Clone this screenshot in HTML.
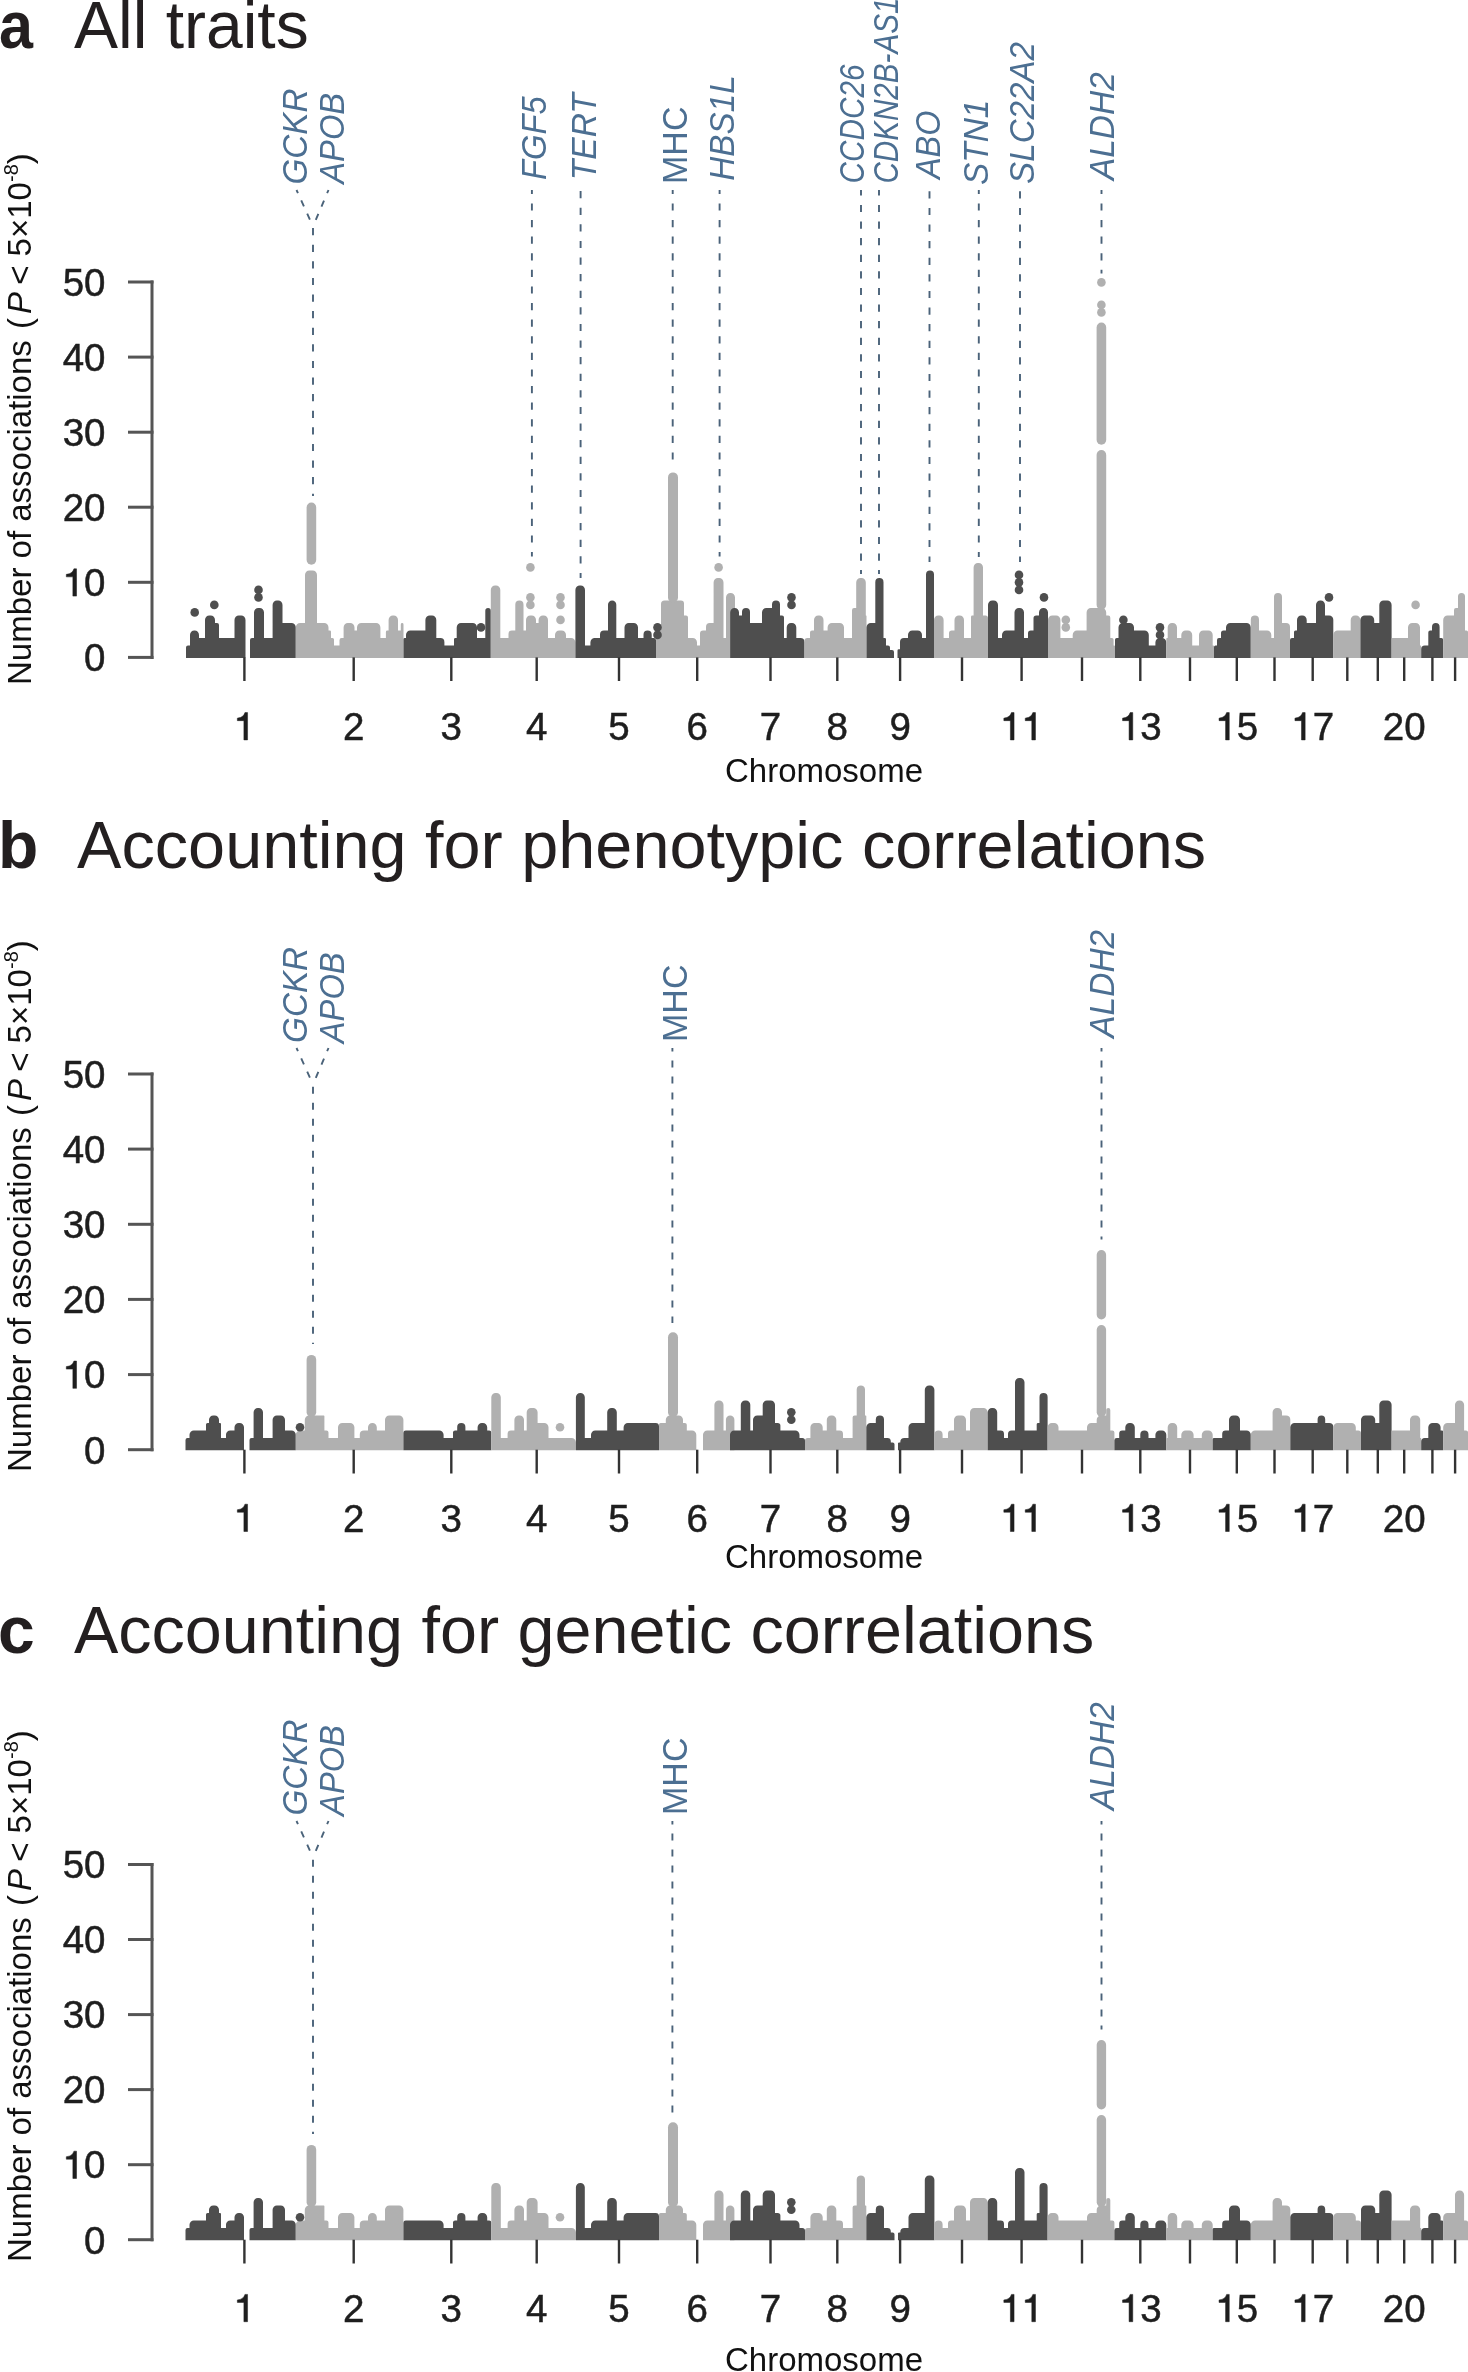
<!DOCTYPE html>
<html><head><meta charset="utf-8"><title>Manhattan plots</title>
<style>
html,body{margin:0;padding:0;background:#fff;}
body{width:1468px;height:2372px;overflow:hidden;}
svg{display:block;filter:blur(0.5px);}
text{font-family:"Liberation Sans",sans-serif;}
.ttl{font-size:66px;fill:#231f20;}
.tl{font-size:38.5px;fill:#1e1e1e;stroke:#1e1e1e;stroke-width:0.5px;}
.ax{font-size:33px;fill:#111;}
.gl{font-size:35.5px;fill:#4c6f92;}
.dl{stroke:#4a6279;stroke-width:1.9;fill:none;}
</style></head>
<body>
<svg width="1468" height="2372" viewBox="0 0 1468 2372">
<text x="-1" y="48" class="ttl" font-weight="bold" textLength="34" lengthAdjust="spacingAndGlyphs">a</text>
<text x="74" y="48" class="ttl">All traits</text>
<text transform="translate(31,685) rotate(-90)" class="ax">Number of associations <tspan dx="2">(</tspan><tspan dx="4" font-style="italic">P</tspan><tspan dx="-2"> &lt; 5×10</tspan><tspan style="font-size:20px" dy="-13">-8</tspan><tspan dy="13">)</tspan></text>
<path d="M186.00,658.00V647.60A2.00,2.00 0 0 1 188.00,645.60H190.00V634.90A4.30,4.30 0 0 1 194.30,630.60H194.70A4.30,4.30 0 0 1 199.00,634.90V638.10H205.00V619.90A4.30,4.30 0 0 1 209.30,615.60H210.70A4.30,4.30 0 0 1 215.00,619.90V623.10H217.00A2.00,2.00 0 0 1 219.00,625.10V638.10H234.50V619.90A4.30,4.30 0 0 1 238.80,615.60H241.20A4.30,4.30 0 0 1 245.50,619.90V658.00Z" fill="#4e4e4e"/>
<path d="M250.00,658.00V640.10A2.00,2.00 0 0 1 252.00,638.10H254.00V612.40A4.30,4.30 0 0 1 258.30,608.10H259.70A4.30,4.30 0 0 1 264.00,612.40V638.10H272.60V604.90A4.30,4.30 0 0 1 276.90,600.60H278.20A4.30,4.30 0 0 1 282.50,604.90V623.10H291.50A4.30,4.30 0 0 1 295.80,627.40V658.00Z" fill="#4e4e4e"/>
<path d="M295.80,658.00V627.40A4.30,4.30 0 0 1 300.10,623.10H305.00V574.90A4.30,4.30 0 0 1 309.30,570.60H312.70A4.30,4.30 0 0 1 317.00,574.90V623.10H324.20A4.30,4.30 0 0 1 328.50,627.40V630.60H329.75A1.25,1.25 0 0 1 331.00,631.85V638.10H332.50A1.50,1.50 0 0 1 334.00,639.60V645.60H339.50V640.15A2.05,2.05 0 0 1 341.55,638.10H343.60V627.40A4.30,4.30 0 0 1 347.90,623.10H350.20A4.30,4.30 0 0 1 354.50,627.40V630.60H357.00V627.40A4.30,4.30 0 0 1 361.30,623.10H376.10A4.30,4.30 0 0 1 380.40,627.40V638.10H385.90V631.95A1.35,1.35 0 0 1 387.25,630.60H388.60V619.90A4.30,4.30 0 0 1 392.90,615.60H393.70A4.30,4.30 0 0 1 398.00,619.90V630.60H400.80V624.45A1.35,1.35 0 0 1 402.15,623.10H402.15A1.35,1.35 0 0 1 403.50,624.45V658.00Z" fill="#b0b0b0"/>
<path d="M403.50,658.00V639.35A1.25,1.25 0 0 1 404.75,638.10H406.00V634.90A4.30,4.30 0 0 1 410.30,630.60H425.40V619.90A4.30,4.30 0 0 1 429.70,615.60H432.00A4.30,4.30 0 0 1 436.30,619.90V638.10H440.35A4.05,4.05 0 0 1 444.40,642.15V645.60H454.00V639.45A1.35,1.35 0 0 1 455.35,638.10H456.70V627.40A4.30,4.30 0 0 1 461.00,623.10H472.70A4.30,4.30 0 0 1 477.00,627.40V638.10H485.30V610.85A2.75,2.75 0 0 1 488.05,608.10H488.05A2.75,2.75 0 0 1 490.80,610.85V658.00Z" fill="#4e4e4e"/>
<path d="M490.80,658.00V589.90A4.30,4.30 0 0 1 495.10,585.60H496.00A4.30,4.30 0 0 1 500.30,589.90V638.10H508.50V634.00A3.40,3.40 0 0 1 511.90,630.60H515.30V604.70A4.10,4.10 0 0 1 519.40,600.60H519.40A4.10,4.10 0 0 1 523.50,604.70V630.60H526.00V619.90A4.30,4.30 0 0 1 530.30,615.60H531.70A4.30,4.30 0 0 1 536.00,619.90V623.10H538.60V619.90A4.30,4.30 0 0 1 542.90,615.60H543.70A4.30,4.30 0 0 1 548.00,619.90V638.10H555.00V634.90A4.30,4.30 0 0 1 559.30,630.60H561.70A4.30,4.30 0 0 1 566.00,634.90V638.10H571.10A4.30,4.30 0 0 1 575.40,642.40V658.00Z" fill="#b0b0b0"/>
<path d="M575.40,658.00V589.90A4.30,4.30 0 0 1 579.70,585.60H580.70A4.30,4.30 0 0 1 585.00,589.90V645.60H590.40V642.40A4.30,4.30 0 0 1 594.70,638.10H600.00V634.60A4.00,4.00 0 0 1 604.00,630.60H608.00V604.75A4.15,4.15 0 0 1 612.15,600.60H612.15A4.15,4.15 0 0 1 616.30,604.75V638.10H624.50V627.40A4.30,4.30 0 0 1 628.80,623.10H633.70A4.30,4.30 0 0 1 638.00,627.40V638.10H643.50V634.70A4.10,4.10 0 0 1 647.60,630.60H647.60A4.10,4.10 0 0 1 651.70,634.70V638.10H653.85A2.15,2.15 0 0 1 656.00,640.25V658.00Z" fill="#4e4e4e"/>
<path d="M656.00,658.00V633.10A2.50,2.50 0 0 1 658.50,630.60H661.00V604.10A3.50,3.50 0 0 1 664.50,600.60H668.00V600.60H678.00V600.60H681.00A3.00,3.00 0 0 1 684.00,603.60V615.60H686.00A2.00,2.00 0 0 1 688.00,617.60V638.10H692.70A4.30,4.30 0 0 1 697.00,642.40V645.60H700.00V633.60A3.00,3.00 0 0 1 703.00,630.60H706.00V626.90A3.80,3.80 0 0 1 709.80,623.10H713.60V582.40A4.30,4.30 0 0 1 717.90,578.10H719.20A4.30,4.30 0 0 1 723.50,582.40V638.10H726.00V597.40A4.30,4.30 0 0 1 730.30,593.10H730.70A4.30,4.30 0 0 1 735.00,597.40V658.00Z" fill="#b0b0b0"/>
<path d="M730.20,658.00V612.40A4.30,4.30 0 0 1 734.50,608.10H734.70A4.30,4.30 0 0 1 739.00,612.40V615.60H742.00V612.10A4.00,4.00 0 0 1 746.00,608.10H746.00A4.00,4.00 0 0 1 750.00,612.10V623.10H762.00V612.40A4.30,4.30 0 0 1 766.30,608.10H772.00V604.60A4.00,4.00 0 0 1 776.00,600.60H776.00A4.00,4.00 0 0 1 780.00,604.60V615.60H782.00A2.00,2.00 0 0 1 784.00,617.60V638.10H786.70V627.40A4.30,4.30 0 0 1 791.00,623.10H792.00A4.30,4.30 0 0 1 796.30,627.40V638.10H800.40A4.10,4.10 0 0 1 804.50,642.20V658.00Z" fill="#4e4e4e"/>
<path d="M804.50,658.00V640.85A2.75,2.75 0 0 1 807.25,638.10H810.00V632.60A2.00,2.00 0 0 1 812.00,630.60H814.00V619.90A4.30,4.30 0 0 1 818.30,615.60H819.20A4.30,4.30 0 0 1 823.50,619.90V630.60H827.60V627.40A4.30,4.30 0 0 1 831.90,623.10H839.70A4.30,4.30 0 0 1 844.00,627.40V638.10H852.00V610.20A2.10,2.10 0 0 1 854.10,608.10H856.20V582.40A4.30,4.30 0 0 1 860.50,578.10H861.50A4.30,4.30 0 0 1 865.80,582.40V615.60H866.15A0.35,0.35 0 0 1 866.50,615.95V658.00Z" fill="#b0b0b0"/>
<path d="M866.50,658.00V627.40A4.30,4.30 0 0 1 870.80,623.10H875.30V582.20A4.10,4.10 0 0 1 879.40,578.10H879.40A4.10,4.10 0 0 1 883.50,582.20V638.10H884.75A1.25,1.25 0 0 1 886.00,639.35V645.60H888.00A2.00,2.00 0 0 1 890.00,647.60V650.10H892.00A2.00,2.00 0 0 1 894.00,652.10V658.00Z" fill="#4e4e4e"/>
<path d="M897.50,658.00V650.60A1.25,1.25 0 0 1 898.75,649.35H900.00V642.10A4.00,4.00 0 0 1 904.00,638.10H908.00V634.90A4.30,4.30 0 0 1 912.30,630.60H917.70A4.30,4.30 0 0 1 922.00,634.90V638.10H926.00V574.60A4.00,4.00 0 0 1 930.00,570.60H930.00A4.00,4.00 0 0 1 934.00,574.60V658.00Z" fill="#4e4e4e"/>
<path d="M934.00,658.00V619.90A4.30,4.30 0 0 1 938.30,615.60H939.30A4.30,4.30 0 0 1 943.60,619.90V638.10H949.00V633.35A2.75,2.75 0 0 1 951.75,630.60H954.50V619.90A4.30,4.30 0 0 1 958.80,615.60H959.70A4.30,4.30 0 0 1 964.00,619.90V638.10H971.00V616.90A1.30,1.30 0 0 1 972.30,615.60H973.60V567.40A4.30,4.30 0 0 1 977.90,563.10H978.70A4.30,4.30 0 0 1 983.00,567.40V615.60H985.50A2.50,2.50 0 0 1 988.00,618.10V658.00Z" fill="#b0b0b0"/>
<path d="M988.00,658.00V604.90A4.30,4.30 0 0 1 992.30,600.60H993.70A4.30,4.30 0 0 1 998.00,604.90V638.10H1002.00V634.90A4.30,4.30 0 0 1 1006.30,630.60H1014.50V612.40A4.30,4.30 0 0 1 1018.80,608.10H1019.70A4.30,4.30 0 0 1 1024.00,612.40V638.10H1028.00V633.35A2.75,2.75 0 0 1 1030.75,630.60H1033.50V618.35A2.75,2.75 0 0 1 1036.25,615.60H1039.00V612.40A4.30,4.30 0 0 1 1043.30,608.10H1043.70A4.30,4.30 0 0 1 1048.00,612.40V658.00Z" fill="#4e4e4e"/>
<path d="M1048.00,658.00V619.90A4.30,4.30 0 0 1 1052.30,615.60H1056.10A4.30,4.30 0 0 1 1060.40,619.90V638.10H1072.70V634.90A4.30,4.30 0 0 1 1077.00,630.60H1086.60V612.40A4.30,4.30 0 0 1 1090.90,608.10H1096.40V608.10H1101.90A4.30,4.30 0 0 1 1106.20,612.40V615.60H1108.25A2.05,2.05 0 0 1 1110.30,617.65V638.10H1111.95A1.65,1.65 0 0 1 1113.60,639.75V645.60H1114.30A0.70,0.70 0 0 1 1115.00,646.30V658.00Z" fill="#b0b0b0"/>
<path d="M1115.00,658.00V639.85A1.75,1.75 0 0 1 1116.75,638.10H1118.50V627.40A4.30,4.30 0 0 1 1122.80,623.10H1129.70A4.30,4.30 0 0 1 1134.00,627.40V630.60H1144.50A4.30,4.30 0 0 1 1148.80,634.90V645.60H1155.40V642.40A4.30,4.30 0 0 1 1159.70,638.10H1162.00A4.30,4.30 0 0 1 1166.30,642.40V658.00Z" fill="#4e4e4e"/>
<path d="M1166.30,658.00V638.80A0.70,0.70 0 0 1 1167.00,638.10H1167.70V627.40A4.30,4.30 0 0 1 1172.00,623.10H1172.70A4.30,4.30 0 0 1 1177.00,627.40V638.10H1181.30V634.90A4.30,4.30 0 0 1 1185.60,630.60H1187.90A4.30,4.30 0 0 1 1192.20,634.90V645.60H1199.00V634.90A4.30,4.30 0 0 1 1203.30,630.60H1208.40A4.30,4.30 0 0 1 1212.70,634.90V645.60H1213.35A0.65,0.65 0 0 1 1214.00,646.25V658.00Z" fill="#b0b0b0"/>
<path d="M1214.00,658.00V647.10A1.50,1.50 0 0 1 1215.50,645.60H1217.00V640.10A2.00,2.00 0 0 1 1219.00,638.10H1221.00V633.10A2.50,2.50 0 0 1 1223.50,630.60H1226.00V627.40A4.30,4.30 0 0 1 1230.30,623.10H1246.50A4.30,4.30 0 0 1 1250.80,627.40V658.00Z" fill="#4e4e4e"/>
<path d="M1250.80,658.00V619.70A4.10,4.10 0 0 1 1254.90,615.60H1254.90A4.10,4.10 0 0 1 1259.00,619.70V630.60H1267.00A4.30,4.30 0 0 1 1271.30,634.90V638.10H1274.00V597.10A4.00,4.00 0 0 1 1278.00,593.10H1278.00A4.00,4.00 0 0 1 1282.00,597.10V623.10H1286.00A4.00,4.00 0 0 1 1290.00,627.10V658.00Z" fill="#b0b0b0"/>
<path d="M1290.00,658.00V640.10A2.00,2.00 0 0 1 1292.00,638.10H1294.00V632.10A1.50,1.50 0 0 1 1295.50,630.60H1297.00V619.90A4.30,4.30 0 0 1 1301.30,615.60H1302.40A4.30,4.30 0 0 1 1306.70,619.90V623.10H1316.00V604.90A4.30,4.30 0 0 1 1320.30,600.60H1320.70A4.30,4.30 0 0 1 1325.00,604.90V615.60H1329.15A4.15,4.15 0 0 1 1333.30,619.75V658.00Z" fill="#4e4e4e"/>
<path d="M1333.30,658.00V634.90A4.30,4.30 0 0 1 1337.60,630.60H1350.70V619.90A4.30,4.30 0 0 1 1355.00,615.60H1356.10A4.30,4.30 0 0 1 1360.40,619.90V658.00Z" fill="#b0b0b0"/>
<path d="M1360.40,658.00V619.90A4.30,4.30 0 0 1 1364.70,615.60H1369.90A4.30,4.30 0 0 1 1374.20,619.90V623.10H1379.30V604.90A4.30,4.30 0 0 1 1383.60,600.60H1387.30A4.30,4.30 0 0 1 1391.60,604.90V658.00Z" fill="#4e4e4e"/>
<path d="M1391.60,658.00V639.10A1.00,1.00 0 0 1 1392.60,638.10H1393.60V638.10H1408.00V627.40A4.30,4.30 0 0 1 1412.30,623.10H1415.70A4.30,4.30 0 0 1 1420.00,627.40V645.60H1420.60A0.60,0.60 0 0 1 1421.20,646.20V658.00Z" fill="#b0b0b0"/>
<path d="M1421.20,658.00V649.15A3.55,3.55 0 0 1 1424.75,645.60H1428.30V632.45A1.85,1.85 0 0 1 1430.15,630.60H1432.00V626.90A3.80,3.80 0 0 1 1435.80,623.10H1435.80A3.80,3.80 0 0 1 1439.60,626.90V638.10H1441.40A1.80,1.80 0 0 1 1443.20,639.90V658.00Z" fill="#4e4e4e"/>
<path d="M1443.20,658.00V619.90A4.30,4.30 0 0 1 1447.50,615.60H1454.00V610.10A2.00,2.00 0 0 1 1456.00,608.10H1458.00V596.60A3.50,3.50 0 0 1 1461.50,593.10H1461.50A3.50,3.50 0 0 1 1465.00,596.60V630.60H1466.50A1.50,1.50 0 0 1 1468.00,632.10V658.00Z" fill="#b0b0b0"/>
<line x1="311.4" y1="559.9" x2="311.4" y2="507.4" stroke="#b0b0b0" stroke-width="9.6" stroke-linecap="round"/>
<line x1="673" y1="597.4" x2="673" y2="477.4" stroke="#b0b0b0" stroke-width="10" stroke-linecap="round"/>
<line x1="1101.4" y1="604.9" x2="1101.4" y2="454.9" stroke="#b0b0b0" stroke-width="9.6" stroke-linecap="round"/>
<line x1="1101.4" y1="439.9" x2="1101.4" y2="327.4" stroke="#b0b0b0" stroke-width="9.6" stroke-linecap="round"/>
<circle cx="194.7" cy="612.4" r="4.3" fill="#4e4e4e"/>
<circle cx="214.3" cy="604.9" r="4.3" fill="#4e4e4e"/>
<circle cx="258.5" cy="597.4" r="4.3" fill="#4e4e4e"/>
<circle cx="258.5" cy="589.9" r="4.3" fill="#4e4e4e"/>
<circle cx="481" cy="627.4" r="4.3" fill="#4e4e4e"/>
<circle cx="530.4" cy="604.9" r="4.3" fill="#b0b0b0"/>
<circle cx="530.4" cy="597.4" r="4.3" fill="#b0b0b0"/>
<circle cx="530.4" cy="567.4" r="4.3" fill="#b0b0b0"/>
<circle cx="560.5" cy="619.9" r="4.3" fill="#b0b0b0"/>
<circle cx="560.5" cy="604.9" r="4.3" fill="#b0b0b0"/>
<circle cx="560.5" cy="597.4" r="4.3" fill="#b0b0b0"/>
<circle cx="657.5" cy="627.4" r="4.3" fill="#4e4e4e"/>
<circle cx="657.5" cy="634.9" r="4.3" fill="#4e4e4e"/>
<circle cx="718.6" cy="567.4" r="4.3" fill="#b0b0b0"/>
<circle cx="791.5" cy="604.9" r="4.3" fill="#4e4e4e"/>
<circle cx="791.5" cy="597.4" r="4.3" fill="#4e4e4e"/>
<circle cx="1019" cy="589.9" r="4.3" fill="#4e4e4e"/>
<circle cx="1019" cy="582.4" r="4.3" fill="#4e4e4e"/>
<circle cx="1019" cy="574.9" r="4.3" fill="#4e4e4e"/>
<circle cx="1044" cy="597.4" r="4.3" fill="#4e4e4e"/>
<circle cx="1065.8" cy="627.4" r="4.3" fill="#b0b0b0"/>
<circle cx="1065.8" cy="619.9" r="4.3" fill="#b0b0b0"/>
<circle cx="1123.4" cy="619.9" r="4.3" fill="#4e4e4e"/>
<circle cx="1160" cy="627.4" r="4.3" fill="#4e4e4e"/>
<circle cx="1160" cy="634.9" r="4.3" fill="#4e4e4e"/>
<circle cx="1329" cy="597.4" r="4.3" fill="#4e4e4e"/>
<circle cx="1415.6" cy="604.9" r="4.3" fill="#b0b0b0"/>
<circle cx="1101.4" cy="312.4" r="4.3" fill="#b0b0b0"/>
<circle cx="1101.4" cy="304.9" r="4.3" fill="#b0b0b0"/>
<circle cx="1101.4" cy="282.4" r="4.3" fill="#b0b0b0"/>
<line x1="152" y1="280.5" x2="152" y2="658.9" stroke="#555" stroke-width="3"/>
<line x1="128" y1="657.4" x2="153.5" y2="657.4" stroke="#555" stroke-width="3"/>
<text x="84.09" y="671.20" class="tl">0</text>
<line x1="128" y1="582.3" x2="153.5" y2="582.3" stroke="#555" stroke-width="3"/>
<path d="M0.265,0 L0.36,0 L0.36,0.709 L0.292,0.709 C0.27,0.63 0.21,0.575 0.095,0.565 L0.095,0.5 L0.265,0.5 Z" transform="translate(62.67,596.12) scale(38.5,-38.5)" fill="#1e1e1e" stroke="#1e1e1e" stroke-width="0.0130"/><text x="84.09" y="596.12" class="tl">0</text>
<line x1="128" y1="507.2" x2="153.5" y2="507.2" stroke="#555" stroke-width="3"/>
<text x="62.67" y="521.04" class="tl">2</text><text x="84.09" y="521.04" class="tl">0</text>
<line x1="128" y1="432.2" x2="153.5" y2="432.2" stroke="#555" stroke-width="3"/>
<text x="62.67" y="445.96" class="tl">3</text><text x="84.09" y="445.96" class="tl">0</text>
<line x1="128" y1="357.1" x2="153.5" y2="357.1" stroke="#555" stroke-width="3"/>
<text x="62.67" y="370.88" class="tl">4</text><text x="84.09" y="370.88" class="tl">0</text>
<line x1="128" y1="282.0" x2="153.5" y2="282.0" stroke="#555" stroke-width="3"/>
<text x="62.67" y="295.80" class="tl">5</text><text x="84.09" y="295.80" class="tl">0</text>
<line x1="244.4" y1="657.4" x2="244.4" y2="681" stroke="#333" stroke-width="2.4"/>
<path d="M0.265,0 L0.36,0 L0.36,0.709 L0.292,0.709 C0.27,0.63 0.21,0.575 0.095,0.565 L0.095,0.5 L0.265,0.5 Z" transform="translate(233.69,739.90) scale(38.5,-38.5)" fill="#1e1e1e" stroke="#1e1e1e" stroke-width="0.0130"/>
<line x1="353.7" y1="657.4" x2="353.7" y2="681" stroke="#333" stroke-width="2.4"/>
<text x="342.99" y="739.90" class="tl">2</text>
<line x1="451.3" y1="657.4" x2="451.3" y2="681" stroke="#333" stroke-width="2.4"/>
<text x="440.59" y="739.90" class="tl">3</text>
<line x1="536.7" y1="657.4" x2="536.7" y2="681" stroke="#333" stroke-width="2.4"/>
<text x="525.99" y="739.90" class="tl">4</text>
<line x1="619" y1="657.4" x2="619" y2="681" stroke="#333" stroke-width="2.4"/>
<text x="608.29" y="739.90" class="tl">5</text>
<line x1="697.2" y1="657.4" x2="697.2" y2="681" stroke="#333" stroke-width="2.4"/>
<text x="686.49" y="739.90" class="tl">6</text>
<line x1="770.5" y1="657.4" x2="770.5" y2="681" stroke="#333" stroke-width="2.4"/>
<text x="759.79" y="739.90" class="tl">7</text>
<line x1="837.3" y1="657.4" x2="837.3" y2="681" stroke="#333" stroke-width="2.4"/>
<text x="826.59" y="739.90" class="tl">8</text>
<line x1="900.1" y1="657.4" x2="900.1" y2="681" stroke="#333" stroke-width="2.4"/>
<text x="889.39" y="739.90" class="tl">9</text>
<line x1="962" y1="657.4" x2="962" y2="681" stroke="#333" stroke-width="2.4"/>
<line x1="1021.6" y1="657.4" x2="1021.6" y2="681" stroke="#333" stroke-width="2.4"/>
<path d="M0.265,0 L0.36,0 L0.36,0.709 L0.292,0.709 C0.27,0.63 0.21,0.575 0.095,0.565 L0.095,0.5 L0.265,0.5 Z" transform="translate(1000.19,739.90) scale(38.5,-38.5)" fill="#1e1e1e" stroke="#1e1e1e" stroke-width="0.0130"/><path d="M0.265,0 L0.36,0 L0.36,0.709 L0.292,0.709 C0.27,0.63 0.21,0.575 0.095,0.565 L0.095,0.5 L0.265,0.5 Z" transform="translate(1021.60,739.90) scale(38.5,-38.5)" fill="#1e1e1e" stroke="#1e1e1e" stroke-width="0.0130"/>
<line x1="1082" y1="657.4" x2="1082" y2="681" stroke="#333" stroke-width="2.4"/>
<line x1="1140.3" y1="657.4" x2="1140.3" y2="681" stroke="#333" stroke-width="2.4"/>
<path d="M0.265,0 L0.36,0 L0.36,0.709 L0.292,0.709 C0.27,0.63 0.21,0.575 0.095,0.565 L0.095,0.5 L0.265,0.5 Z" transform="translate(1118.89,739.90) scale(38.5,-38.5)" fill="#1e1e1e" stroke="#1e1e1e" stroke-width="0.0130"/><text x="1140.30" y="739.90" class="tl">3</text>
<line x1="1190" y1="657.4" x2="1190" y2="681" stroke="#333" stroke-width="2.4"/>
<line x1="1236.8" y1="657.4" x2="1236.8" y2="681" stroke="#333" stroke-width="2.4"/>
<path d="M0.265,0 L0.36,0 L0.36,0.709 L0.292,0.709 C0.27,0.63 0.21,0.575 0.095,0.565 L0.095,0.5 L0.265,0.5 Z" transform="translate(1215.39,739.90) scale(38.5,-38.5)" fill="#1e1e1e" stroke="#1e1e1e" stroke-width="0.0130"/><text x="1236.80" y="739.90" class="tl">5</text>
<line x1="1274.5" y1="657.4" x2="1274.5" y2="681" stroke="#333" stroke-width="2.4"/>
<line x1="1312.7" y1="657.4" x2="1312.7" y2="681" stroke="#333" stroke-width="2.4"/>
<path d="M0.265,0 L0.36,0 L0.36,0.709 L0.292,0.709 C0.27,0.63 0.21,0.575 0.095,0.565 L0.095,0.5 L0.265,0.5 Z" transform="translate(1291.29,739.90) scale(38.5,-38.5)" fill="#1e1e1e" stroke="#1e1e1e" stroke-width="0.0130"/><text x="1312.70" y="739.90" class="tl">7</text>
<line x1="1347.3" y1="657.4" x2="1347.3" y2="681" stroke="#333" stroke-width="2.4"/>
<line x1="1377.8" y1="657.4" x2="1377.8" y2="681" stroke="#333" stroke-width="2.4"/>
<line x1="1404.2" y1="657.4" x2="1404.2" y2="681" stroke="#333" stroke-width="2.4"/>
<text x="1382.79" y="739.90" class="tl">2</text><text x="1404.20" y="739.90" class="tl">0</text>
<line x1="1432.4" y1="657.4" x2="1432.4" y2="681" stroke="#333" stroke-width="2.4"/>
<line x1="1455.1" y1="657.4" x2="1455.1" y2="681" stroke="#333" stroke-width="2.4"/>
<text x="824" y="782.4" text-anchor="middle" class="ax">Chromosome</text>
<text transform="translate(306.8,184.5) rotate(-90)" class="gl" font-style="italic" textLength="96.0" lengthAdjust="spacingAndGlyphs">GCKR</text>
<text transform="translate(344.4,183.7) rotate(-90)" class="gl" font-style="italic" textLength="90.8" lengthAdjust="spacingAndGlyphs">APOB</text>
<text transform="translate(546.0,180.1) rotate(-90)" class="gl" font-style="italic" textLength="83.9" lengthAdjust="spacingAndGlyphs">FGF5</text>
<text transform="translate(595.5,180.2) rotate(-90)" class="gl" font-style="italic" textLength="86.9" lengthAdjust="spacingAndGlyphs">TERT</text>
<text transform="translate(686.7,183.9) rotate(-90)" class="gl" textLength="77.3" lengthAdjust="spacingAndGlyphs">MHC</text>
<text transform="translate(734.0,180.7) rotate(-90)" class="gl" font-style="italic" textLength="105.5" lengthAdjust="spacingAndGlyphs">HBS1L</text>
<text transform="translate(864.4,183.4) rotate(-90)" class="gl" font-style="italic" textLength="118.9" lengthAdjust="spacingAndGlyphs">CCDC26</text>
<text transform="translate(897.5,183.6) rotate(-90)" class="gl" font-style="italic" textLength="186.1" lengthAdjust="spacingAndGlyphs">CDKN2B-AS1</text>
<text transform="translate(940.4,179.1) rotate(-90)" class="gl" font-style="italic" textLength="68.6" lengthAdjust="spacingAndGlyphs">ABO</text>
<text transform="translate(988.4,184.9) rotate(-90)" class="gl" font-style="italic" textLength="85.3" lengthAdjust="spacingAndGlyphs">STN1</text>
<text transform="translate(1034.4,183.9) rotate(-90)" class="gl" font-style="italic" textLength="141.9" lengthAdjust="spacingAndGlyphs">SLC22A2</text>
<text transform="translate(1114.0,180.1) rotate(-90)" class="gl" font-style="italic" textLength="107.9" lengthAdjust="spacingAndGlyphs">ALDH2</text>
<path d="M296.5,190 L313,226.5" class="dl" stroke-dasharray="6.5 8" stroke-dashoffset="3"/>
<path d="M328.5,190 L313,226.5" class="dl" stroke-dasharray="6.5 8" stroke-dashoffset="3"/>
<path d="M313,226.5 V496" class="dl" stroke-dasharray="7.2 9.4" stroke-dashoffset="15"/>
<line x1="531.9" y1="190" x2="531.9" y2="556.4" class="dl" stroke-dasharray="7.2 9.4" stroke-dashoffset="3.2"/>
<line x1="580.6" y1="190" x2="580.6" y2="578" class="dl" stroke-dasharray="7.2 9.4" stroke-dashoffset="-1.0999999999999996"/>
<line x1="672.7" y1="190" x2="672.7" y2="466" class="dl" stroke-dasharray="7.2 9.4" stroke-dashoffset="3.2"/>
<line x1="719.6" y1="190" x2="719.6" y2="556.4" class="dl" stroke-dasharray="7.2 9.4" stroke-dashoffset="3.2"/>
<line x1="861" y1="190" x2="861" y2="574" class="dl" stroke-dasharray="7.2 9.4" stroke-dashoffset="1.7000000000000002"/>
<line x1="879" y1="190" x2="879" y2="574" class="dl" stroke-dasharray="7.2 9.4" stroke-dashoffset="1.7000000000000002"/>
<line x1="929.5" y1="190" x2="929.5" y2="562" class="dl" stroke-dasharray="7.2 9.4" stroke-dashoffset="-1.2999999999999998"/>
<line x1="978.8" y1="190" x2="978.8" y2="557" class="dl" stroke-dasharray="7.2 9.4" stroke-dashoffset="3.2"/>
<line x1="1020" y1="190" x2="1020" y2="562" class="dl" stroke-dasharray="7.2 9.4" stroke-dashoffset="-1.2999999999999998"/>
<line x1="1101.5" y1="190" x2="1101.5" y2="273.6" class="dl" stroke-dasharray="7.2 9.4" stroke-dashoffset="3.2"/>
<text x="-2" y="868.4" class="ttl" font-weight="bold">b</text>
<text x="77.1" y="868.4" class="ttl" style="font-size:66.6px">Accounting for phenotypic correlations</text>
<text transform="translate(31,1472) rotate(-90)" class="ax">Number of associations <tspan dx="2">(</tspan><tspan dx="4" font-style="italic">P</tspan><tspan dx="-2"> &lt; 5×10</tspan><tspan style="font-size:20px" dy="-13">-8</tspan><tspan dy="13">)</tspan></text>
<path d="M185.50,1450.30V1439.90A2.00,2.00 0 0 1 187.50,1437.90H189.50V1434.70A4.30,4.30 0 0 1 193.80,1430.40H206.00V1424.40A1.50,1.50 0 0 1 207.50,1422.90H209.00V1419.70A4.30,4.30 0 0 1 213.30,1415.40H214.70A4.30,4.30 0 0 1 219.00,1419.70V1422.90H220.00A1.00,1.00 0 0 1 221.00,1423.90V1437.90H226.00V1434.65A4.25,4.25 0 0 1 230.25,1430.40H234.50V1427.20A4.30,4.30 0 0 1 238.80,1422.90H239.70A4.30,4.30 0 0 1 244.00,1427.20V1450.30Z" fill="#4e4e4e"/>
<path d="M249.50,1450.30V1439.95A2.05,2.05 0 0 1 251.55,1437.90H253.60V1412.20A4.30,4.30 0 0 1 257.90,1407.90H258.70A4.30,4.30 0 0 1 263.00,1412.20V1437.90H272.60V1419.70A4.30,4.30 0 0 1 276.90,1415.40H280.70A4.30,4.30 0 0 1 285.00,1419.70V1430.40H291.50A4.30,4.30 0 0 1 295.80,1434.70V1450.30Z" fill="#4e4e4e"/>
<path d="M295.80,1450.30V1434.70A4.30,4.30 0 0 1 300.10,1430.40H304.80V1419.70A4.30,4.30 0 0 1 309.10,1415.40H323.00V1415.40H323.70A0.70,0.70 0 0 1 324.40,1416.10V1430.40H326.45A2.05,2.05 0 0 1 328.50,1432.45V1437.90H338.00V1427.20A4.30,4.30 0 0 1 342.30,1422.90H350.10A4.30,4.30 0 0 1 354.40,1427.20V1437.90H359.80V1434.50A4.10,4.10 0 0 1 363.90,1430.40H368.00V1427.20A4.30,4.30 0 0 1 372.30,1422.90H372.50A4.30,4.30 0 0 1 376.80,1427.20V1430.40H385.00V1419.70A4.30,4.30 0 0 1 389.30,1415.40H399.10A4.30,4.30 0 0 1 403.40,1419.70V1450.30Z" fill="#b0b0b0"/>
<path d="M403.40,1450.30V1432.70A2.30,2.30 0 0 1 405.70,1430.40H408.00V1430.40H439.30A4.30,4.30 0 0 1 443.60,1434.70V1437.90H453.00V1432.50A2.10,2.10 0 0 1 455.10,1430.40H457.20V1427.00A4.10,4.10 0 0 1 461.30,1422.90H461.30A4.10,4.10 0 0 1 465.40,1427.00V1430.40H477.60V1427.20A4.30,4.30 0 0 1 481.90,1422.90H482.90A4.30,4.30 0 0 1 487.20,1427.20V1430.40H489.25A2.05,2.05 0 0 1 491.30,1432.45V1450.30Z" fill="#4e4e4e"/>
<path d="M491.30,1450.30V1397.20A4.30,4.30 0 0 1 495.60,1392.90H496.50A4.30,4.30 0 0 1 500.80,1397.20V1437.90H507.60V1433.80A3.40,3.40 0 0 1 511.00,1430.40H514.40V1419.70A4.30,4.30 0 0 1 518.70,1415.40H519.70A4.30,4.30 0 0 1 524.00,1419.70V1430.40H526.70V1412.20A4.30,4.30 0 0 1 531.00,1407.90H533.30A4.30,4.30 0 0 1 537.60,1412.20V1422.90H544.20A4.30,4.30 0 0 1 548.50,1427.20V1437.90H571.60A4.30,4.30 0 0 1 575.90,1442.20V1450.30Z" fill="#b0b0b0"/>
<path d="M575.90,1450.30V1397.20A4.30,4.30 0 0 1 580.20,1392.90H580.50A4.30,4.30 0 0 1 584.80,1397.20V1437.90H591.00V1434.70A4.30,4.30 0 0 1 595.30,1430.40H607.20V1412.20A4.30,4.30 0 0 1 611.50,1407.90H612.50A4.30,4.30 0 0 1 616.80,1412.20V1430.40H623.60V1427.20A4.30,4.30 0 0 1 627.90,1422.90H652.20V1422.90H655.60A3.40,3.40 0 0 1 659.00,1426.30V1450.30Z" fill="#4e4e4e"/>
<path d="M659.00,1450.30V1424.40A1.50,1.50 0 0 1 660.50,1422.90H662.00V1422.90H665.80V1419.70A4.30,4.30 0 0 1 670.10,1415.40H678.70A4.30,4.30 0 0 1 683.00,1419.70V1422.90H684.90A1.90,1.90 0 0 1 686.80,1424.80V1430.40H692.00A4.30,4.30 0 0 1 696.30,1434.70V1450.30Z" fill="#b0b0b0"/>
<path d="M703.00,1450.30V1434.70A4.30,4.30 0 0 1 707.30,1430.40H714.40V1404.70A4.30,4.30 0 0 1 718.70,1400.40H719.20A4.30,4.30 0 0 1 723.50,1404.70V1430.40H725.90V1419.65A4.25,4.25 0 0 1 730.15,1415.40H730.15A4.25,4.25 0 0 1 734.40,1419.65V1450.30Z" fill="#b0b0b0"/>
<path d="M730.00,1450.30V1434.70A4.30,4.30 0 0 1 734.30,1430.40H740.80V1404.70A4.30,4.30 0 0 1 745.10,1400.40H746.00A4.30,4.30 0 0 1 750.30,1404.70V1430.40H753.00V1419.70A4.30,4.30 0 0 1 757.30,1415.40H762.70V1404.70A4.30,4.30 0 0 1 767.00,1400.40H770.70A4.30,4.30 0 0 1 775.00,1404.70V1422.90H777.70A2.70,2.70 0 0 1 780.40,1425.60V1430.40H795.20A4.30,4.30 0 0 1 799.50,1434.70V1437.90H802.25A2.75,2.75 0 0 1 805.00,1440.65V1450.30Z" fill="#4e4e4e"/>
<path d="M805.00,1450.30V1440.60A2.70,2.70 0 0 1 807.70,1437.90H810.40V1427.20A4.30,4.30 0 0 1 814.70,1422.90H818.40A4.30,4.30 0 0 1 822.70,1427.20V1430.40H826.80V1419.70A4.30,4.30 0 0 1 831.10,1415.40H832.00A4.30,4.30 0 0 1 836.30,1419.70V1430.40H839.65A3.35,3.35 0 0 1 843.00,1433.75V1437.90H852.60V1417.45A2.05,2.05 0 0 1 854.65,1415.40H856.70V1389.55A4.15,4.15 0 0 1 860.85,1385.40H860.85A4.15,4.15 0 0 1 865.00,1389.55V1415.40H865.65A0.65,0.65 0 0 1 866.30,1416.05V1450.30Z" fill="#b0b0b0"/>
<path d="M866.30,1450.30V1427.20A4.30,4.30 0 0 1 870.60,1422.90H875.80V1419.50A4.10,4.10 0 0 1 879.90,1415.40H879.90A4.10,4.10 0 0 1 884.00,1419.50V1437.90H887.40A3.40,3.40 0 0 1 890.80,1441.30V1442.40H892.65A1.85,1.85 0 0 1 894.50,1444.25V1450.30Z" fill="#4e4e4e"/>
<path d="M898.00,1450.30V1443.55A1.15,1.15 0 0 1 899.15,1442.40H900.30V1442.00A4.10,4.10 0 0 1 904.40,1437.90H908.50V1427.20A4.30,4.30 0 0 1 912.80,1422.90H924.80V1389.70A4.30,4.30 0 0 1 929.10,1385.40H930.10A4.30,4.30 0 0 1 934.40,1389.70V1450.30Z" fill="#4e4e4e"/>
<path d="M934.40,1450.30V1434.50A4.10,4.10 0 0 1 938.50,1430.40H938.50A4.10,4.10 0 0 1 942.60,1434.50V1437.90H948.00V1433.40A3.00,3.00 0 0 1 951.00,1430.40H954.00V1419.70A4.30,4.30 0 0 1 958.30,1415.40H961.70A4.30,4.30 0 0 1 966.00,1419.70V1430.40H970.00V1412.20A4.30,4.30 0 0 1 974.30,1407.90H983.40A4.30,4.30 0 0 1 987.70,1412.20V1450.30Z" fill="#b0b0b0"/>
<path d="M987.70,1450.30V1412.20A4.30,4.30 0 0 1 992.00,1407.90H992.90A4.30,4.30 0 0 1 997.20,1412.20V1430.40H1000.60A3.40,3.40 0 0 1 1004.00,1433.80V1437.90H1008.00V1433.90A3.50,3.50 0 0 1 1011.50,1430.40H1015.00V1382.20A4.30,4.30 0 0 1 1019.30,1377.90H1020.20A4.30,4.30 0 0 1 1024.50,1382.20V1430.40H1036.70V1424.30A1.40,1.40 0 0 1 1038.10,1422.90H1039.50V1396.95A4.05,4.05 0 0 1 1043.55,1392.90H1043.55A4.05,4.05 0 0 1 1047.60,1396.95V1450.30Z" fill="#4e4e4e"/>
<path d="M1047.60,1450.30V1427.20A4.30,4.30 0 0 1 1051.90,1422.90H1054.20A4.30,4.30 0 0 1 1058.50,1427.20V1430.40H1087.00V1427.20A4.30,4.30 0 0 1 1091.30,1422.90H1096.70V1419.70A4.30,4.30 0 0 1 1101.00,1415.40H1106.20V1409.95A2.05,2.05 0 0 1 1108.25,1407.90H1108.25A2.05,2.05 0 0 1 1110.30,1409.95V1430.40H1112.35A2.05,2.05 0 0 1 1114.40,1432.45V1450.30Z" fill="#b0b0b0"/>
<path d="M1114.40,1450.30V1440.30A2.40,2.40 0 0 1 1116.80,1437.90H1119.20V1433.45A3.05,3.05 0 0 1 1122.25,1430.40H1125.30V1427.20A4.30,4.30 0 0 1 1129.60,1422.90H1130.50A4.30,4.30 0 0 1 1134.80,1427.20V1437.90H1140.30V1434.50A4.10,4.10 0 0 1 1144.40,1430.40H1144.40A4.10,4.10 0 0 1 1148.50,1434.50V1437.90H1155.40V1434.70A4.30,4.30 0 0 1 1159.70,1430.40H1162.00A4.30,4.30 0 0 1 1166.30,1434.70V1450.30Z" fill="#4e4e4e"/>
<path d="M1166.30,1450.30V1438.60A0.70,0.70 0 0 1 1167.00,1437.90H1167.70V1427.20A4.30,4.30 0 0 1 1172.00,1422.90H1172.90A4.30,4.30 0 0 1 1177.20,1427.20V1437.90H1181.30V1434.70A4.30,4.30 0 0 1 1185.60,1430.40H1189.30A4.30,4.30 0 0 1 1193.60,1434.70V1437.90H1201.80V1434.70A4.30,4.30 0 0 1 1206.10,1430.40H1208.40A4.30,4.30 0 0 1 1212.70,1434.70V1450.30Z" fill="#b0b0b0"/>
<path d="M1212.70,1450.30V1439.25A1.35,1.35 0 0 1 1214.05,1437.90H1215.40V1437.90H1222.20V1433.80A3.40,3.40 0 0 1 1225.60,1430.40H1229.00V1419.70A4.30,4.30 0 0 1 1233.30,1415.40H1235.70A4.30,4.30 0 0 1 1240.00,1419.70V1430.40H1246.50A4.30,4.30 0 0 1 1250.80,1434.70V1450.30Z" fill="#4e4e4e"/>
<path d="M1250.80,1450.30V1434.70A4.30,4.30 0 0 1 1255.10,1430.40H1272.60V1412.20A4.30,4.30 0 0 1 1276.90,1407.90H1277.70A4.30,4.30 0 0 1 1282.00,1412.20V1415.40H1286.15A4.15,4.15 0 0 1 1290.30,1419.55V1450.30Z" fill="#b0b0b0"/>
<path d="M1290.30,1450.30V1427.20A4.30,4.30 0 0 1 1294.60,1422.90H1317.60V1419.20A3.80,3.80 0 0 1 1321.40,1415.40H1321.40A3.80,3.80 0 0 1 1325.20,1419.20V1422.90H1329.25A4.05,4.05 0 0 1 1333.30,1426.95V1450.30Z" fill="#4e4e4e"/>
<path d="M1333.30,1450.30V1427.20A4.30,4.30 0 0 1 1337.60,1422.90H1351.50A4.30,4.30 0 0 1 1355.80,1427.20V1430.40H1358.40A2.60,2.60 0 0 1 1361.00,1433.00V1450.30Z" fill="#b0b0b0"/>
<path d="M1361.00,1450.30V1419.70A4.30,4.30 0 0 1 1365.30,1415.40H1370.90A4.30,4.30 0 0 1 1375.20,1419.70V1422.90H1379.30V1404.70A4.30,4.30 0 0 1 1383.60,1400.40H1387.30A4.30,4.30 0 0 1 1391.60,1404.70V1450.30Z" fill="#4e4e4e"/>
<path d="M1391.60,1450.30V1431.40A1.00,1.00 0 0 1 1392.60,1430.40H1393.60V1430.40H1410.00V1419.70A4.30,4.30 0 0 1 1414.30,1415.40H1415.90A4.30,4.30 0 0 1 1420.20,1419.70V1437.90H1420.70A0.50,0.50 0 0 1 1421.20,1438.40V1450.30Z" fill="#b0b0b0"/>
<path d="M1421.20,1450.30V1441.45A3.55,3.55 0 0 1 1424.75,1437.90H1428.30V1427.20A4.30,4.30 0 0 1 1432.60,1422.90H1436.30A4.30,4.30 0 0 1 1440.60,1427.20V1430.40H1441.90A1.30,1.30 0 0 1 1443.20,1431.70V1450.30Z" fill="#4e4e4e"/>
<path d="M1443.20,1450.30V1427.20A4.30,4.30 0 0 1 1447.50,1422.90H1455.00V1404.70A4.30,4.30 0 0 1 1459.30,1400.40H1459.80A4.30,4.30 0 0 1 1464.10,1404.70V1430.40H1466.05A1.95,1.95 0 0 1 1468.00,1432.35V1450.30Z" fill="#b0b0b0"/>
<line x1="311.4" y1="1412.2" x2="311.4" y2="1359.7" stroke="#b0b0b0" stroke-width="9.6" stroke-linecap="round"/>
<line x1="673" y1="1412.2" x2="673" y2="1337.2" stroke="#b0b0b0" stroke-width="10" stroke-linecap="round"/>
<line x1="1101.4" y1="1412.2" x2="1101.4" y2="1329.7" stroke="#b0b0b0" stroke-width="9.4" stroke-linecap="round"/>
<line x1="1101.4" y1="1314.7" x2="1101.4" y2="1254.7" stroke="#b0b0b0" stroke-width="9.4" stroke-linecap="round"/>
<circle cx="300" cy="1427.2" r="4.3" fill="#4e4e4e"/>
<circle cx="560" cy="1427.2" r="4.3" fill="#b0b0b0"/>
<circle cx="791.3" cy="1419.7" r="4.3" fill="#4e4e4e"/>
<circle cx="791.3" cy="1412.2" r="4.3" fill="#4e4e4e"/>
<line x1="152" y1="1072.5" x2="152" y2="1451.2" stroke="#555" stroke-width="3"/>
<line x1="128" y1="1449.7" x2="153.5" y2="1449.7" stroke="#555" stroke-width="3"/>
<text x="84.09" y="1463.50" class="tl">0</text>
<line x1="128" y1="1374.6" x2="153.5" y2="1374.6" stroke="#555" stroke-width="3"/>
<path d="M0.265,0 L0.36,0 L0.36,0.709 L0.292,0.709 C0.27,0.63 0.21,0.575 0.095,0.565 L0.095,0.5 L0.265,0.5 Z" transform="translate(62.67,1388.36) scale(38.5,-38.5)" fill="#1e1e1e" stroke="#1e1e1e" stroke-width="0.0130"/><text x="84.09" y="1388.36" class="tl">0</text>
<line x1="128" y1="1299.4" x2="153.5" y2="1299.4" stroke="#555" stroke-width="3"/>
<text x="62.67" y="1313.22" class="tl">2</text><text x="84.09" y="1313.22" class="tl">0</text>
<line x1="128" y1="1224.3" x2="153.5" y2="1224.3" stroke="#555" stroke-width="3"/>
<text x="62.67" y="1238.08" class="tl">3</text><text x="84.09" y="1238.08" class="tl">0</text>
<line x1="128" y1="1149.1" x2="153.5" y2="1149.1" stroke="#555" stroke-width="3"/>
<text x="62.67" y="1162.94" class="tl">4</text><text x="84.09" y="1162.94" class="tl">0</text>
<line x1="128" y1="1074.0" x2="153.5" y2="1074.0" stroke="#555" stroke-width="3"/>
<text x="62.67" y="1087.80" class="tl">5</text><text x="84.09" y="1087.80" class="tl">0</text>
<line x1="244.4" y1="1449.7" x2="244.4" y2="1473.5" stroke="#333" stroke-width="2.4"/>
<path d="M0.265,0 L0.36,0 L0.36,0.709 L0.292,0.709 C0.27,0.63 0.21,0.575 0.095,0.565 L0.095,0.5 L0.265,0.5 Z" transform="translate(233.69,1531.50) scale(38.5,-38.5)" fill="#1e1e1e" stroke="#1e1e1e" stroke-width="0.0130"/>
<line x1="353.7" y1="1449.7" x2="353.7" y2="1473.5" stroke="#333" stroke-width="2.4"/>
<text x="342.99" y="1531.50" class="tl">2</text>
<line x1="451.3" y1="1449.7" x2="451.3" y2="1473.5" stroke="#333" stroke-width="2.4"/>
<text x="440.59" y="1531.50" class="tl">3</text>
<line x1="536.7" y1="1449.7" x2="536.7" y2="1473.5" stroke="#333" stroke-width="2.4"/>
<text x="525.99" y="1531.50" class="tl">4</text>
<line x1="619" y1="1449.7" x2="619" y2="1473.5" stroke="#333" stroke-width="2.4"/>
<text x="608.29" y="1531.50" class="tl">5</text>
<line x1="697.2" y1="1449.7" x2="697.2" y2="1473.5" stroke="#333" stroke-width="2.4"/>
<text x="686.49" y="1531.50" class="tl">6</text>
<line x1="770.5" y1="1449.7" x2="770.5" y2="1473.5" stroke="#333" stroke-width="2.4"/>
<text x="759.79" y="1531.50" class="tl">7</text>
<line x1="837.3" y1="1449.7" x2="837.3" y2="1473.5" stroke="#333" stroke-width="2.4"/>
<text x="826.59" y="1531.50" class="tl">8</text>
<line x1="900.1" y1="1449.7" x2="900.1" y2="1473.5" stroke="#333" stroke-width="2.4"/>
<text x="889.39" y="1531.50" class="tl">9</text>
<line x1="962" y1="1449.7" x2="962" y2="1473.5" stroke="#333" stroke-width="2.4"/>
<line x1="1021.6" y1="1449.7" x2="1021.6" y2="1473.5" stroke="#333" stroke-width="2.4"/>
<path d="M0.265,0 L0.36,0 L0.36,0.709 L0.292,0.709 C0.27,0.63 0.21,0.575 0.095,0.565 L0.095,0.5 L0.265,0.5 Z" transform="translate(1000.19,1531.50) scale(38.5,-38.5)" fill="#1e1e1e" stroke="#1e1e1e" stroke-width="0.0130"/><path d="M0.265,0 L0.36,0 L0.36,0.709 L0.292,0.709 C0.27,0.63 0.21,0.575 0.095,0.565 L0.095,0.5 L0.265,0.5 Z" transform="translate(1021.60,1531.50) scale(38.5,-38.5)" fill="#1e1e1e" stroke="#1e1e1e" stroke-width="0.0130"/>
<line x1="1082" y1="1449.7" x2="1082" y2="1473.5" stroke="#333" stroke-width="2.4"/>
<line x1="1140.3" y1="1449.7" x2="1140.3" y2="1473.5" stroke="#333" stroke-width="2.4"/>
<path d="M0.265,0 L0.36,0 L0.36,0.709 L0.292,0.709 C0.27,0.63 0.21,0.575 0.095,0.565 L0.095,0.5 L0.265,0.5 Z" transform="translate(1118.89,1531.50) scale(38.5,-38.5)" fill="#1e1e1e" stroke="#1e1e1e" stroke-width="0.0130"/><text x="1140.30" y="1531.50" class="tl">3</text>
<line x1="1190" y1="1449.7" x2="1190" y2="1473.5" stroke="#333" stroke-width="2.4"/>
<line x1="1236.8" y1="1449.7" x2="1236.8" y2="1473.5" stroke="#333" stroke-width="2.4"/>
<path d="M0.265,0 L0.36,0 L0.36,0.709 L0.292,0.709 C0.27,0.63 0.21,0.575 0.095,0.565 L0.095,0.5 L0.265,0.5 Z" transform="translate(1215.39,1531.50) scale(38.5,-38.5)" fill="#1e1e1e" stroke="#1e1e1e" stroke-width="0.0130"/><text x="1236.80" y="1531.50" class="tl">5</text>
<line x1="1274.5" y1="1449.7" x2="1274.5" y2="1473.5" stroke="#333" stroke-width="2.4"/>
<line x1="1312.7" y1="1449.7" x2="1312.7" y2="1473.5" stroke="#333" stroke-width="2.4"/>
<path d="M0.265,0 L0.36,0 L0.36,0.709 L0.292,0.709 C0.27,0.63 0.21,0.575 0.095,0.565 L0.095,0.5 L0.265,0.5 Z" transform="translate(1291.29,1531.50) scale(38.5,-38.5)" fill="#1e1e1e" stroke="#1e1e1e" stroke-width="0.0130"/><text x="1312.70" y="1531.50" class="tl">7</text>
<line x1="1347.3" y1="1449.7" x2="1347.3" y2="1473.5" stroke="#333" stroke-width="2.4"/>
<line x1="1377.8" y1="1449.7" x2="1377.8" y2="1473.5" stroke="#333" stroke-width="2.4"/>
<line x1="1404.2" y1="1449.7" x2="1404.2" y2="1473.5" stroke="#333" stroke-width="2.4"/>
<text x="1382.79" y="1531.50" class="tl">2</text><text x="1404.20" y="1531.50" class="tl">0</text>
<line x1="1432.4" y1="1449.7" x2="1432.4" y2="1473.5" stroke="#333" stroke-width="2.4"/>
<line x1="1455.1" y1="1449.7" x2="1455.1" y2="1473.5" stroke="#333" stroke-width="2.4"/>
<text x="824" y="1568" text-anchor="middle" class="ax">Chromosome</text>
<text transform="translate(306.8,1042.9) rotate(-90)" class="gl" font-style="italic" textLength="96.0" lengthAdjust="spacingAndGlyphs">GCKR</text>
<text transform="translate(344.4,1043.2) rotate(-90)" class="gl" font-style="italic" textLength="90.8" lengthAdjust="spacingAndGlyphs">APOB</text>
<text transform="translate(687.4,1041.9) rotate(-90)" class="gl" textLength="77.3" lengthAdjust="spacingAndGlyphs">MHC</text>
<text transform="translate(1114.0,1037.7) rotate(-90)" class="gl" font-style="italic" textLength="107.9" lengthAdjust="spacingAndGlyphs">ALDH2</text>
<path d="M296.5,1048 L313,1084.5" class="dl" stroke-dasharray="6.5 8" stroke-dashoffset="3"/>
<path d="M328.5,1048 L313,1084.5" class="dl" stroke-dasharray="6.5 8" stroke-dashoffset="3"/>
<path d="M313,1084.5 V1344" class="dl" stroke-dasharray="7 9" stroke-dashoffset="13.8"/>
<line x1="672.4" y1="1048" x2="672.4" y2="1323" class="dl" stroke-dasharray="7 9" stroke-dashoffset="3.5"/>
<line x1="1101.5" y1="1048" x2="1101.5" y2="1239.5" class="dl" stroke-dasharray="7 9" stroke-dashoffset="3.5"/>
<text x="-2" y="1653.2" class="ttl" font-weight="bold">c</text>
<text x="74" y="1653.2" class="ttl" style="font-size:66.5px">Accounting for genetic correlations</text>
<text transform="translate(31,2262) rotate(-90)" class="ax">Number of associations <tspan dx="2">(</tspan><tspan dx="4" font-style="italic">P</tspan><tspan dx="-2"> &lt; 5×10</tspan><tspan style="font-size:20px" dy="-13">-8</tspan><tspan dy="13">)</tspan></text>
<g transform="translate(0,790.0)"><path d="M185.50,1450.30V1439.90A2.00,2.00 0 0 1 187.50,1437.90H189.50V1434.70A4.30,4.30 0 0 1 193.80,1430.40H206.00V1424.40A1.50,1.50 0 0 1 207.50,1422.90H209.00V1419.70A4.30,4.30 0 0 1 213.30,1415.40H214.70A4.30,4.30 0 0 1 219.00,1419.70V1422.90H220.00A1.00,1.00 0 0 1 221.00,1423.90V1437.90H226.00V1434.65A4.25,4.25 0 0 1 230.25,1430.40H234.50V1427.20A4.30,4.30 0 0 1 238.80,1422.90H239.70A4.30,4.30 0 0 1 244.00,1427.20V1450.30Z" fill="#4e4e4e"/>
<path d="M249.50,1450.30V1439.95A2.05,2.05 0 0 1 251.55,1437.90H253.60V1412.20A4.30,4.30 0 0 1 257.90,1407.90H258.70A4.30,4.30 0 0 1 263.00,1412.20V1437.90H272.60V1419.70A4.30,4.30 0 0 1 276.90,1415.40H280.70A4.30,4.30 0 0 1 285.00,1419.70V1430.40H291.50A4.30,4.30 0 0 1 295.80,1434.70V1450.30Z" fill="#4e4e4e"/>
<path d="M295.80,1450.30V1434.70A4.30,4.30 0 0 1 300.10,1430.40H304.80V1419.70A4.30,4.30 0 0 1 309.10,1415.40H323.00V1415.40H323.70A0.70,0.70 0 0 1 324.40,1416.10V1430.40H326.45A2.05,2.05 0 0 1 328.50,1432.45V1437.90H338.00V1427.20A4.30,4.30 0 0 1 342.30,1422.90H350.10A4.30,4.30 0 0 1 354.40,1427.20V1437.90H359.80V1434.50A4.10,4.10 0 0 1 363.90,1430.40H368.00V1427.20A4.30,4.30 0 0 1 372.30,1422.90H372.50A4.30,4.30 0 0 1 376.80,1427.20V1430.40H385.00V1419.70A4.30,4.30 0 0 1 389.30,1415.40H399.10A4.30,4.30 0 0 1 403.40,1419.70V1450.30Z" fill="#b0b0b0"/>
<path d="M403.40,1450.30V1432.70A2.30,2.30 0 0 1 405.70,1430.40H408.00V1430.40H439.30A4.30,4.30 0 0 1 443.60,1434.70V1437.90H453.00V1432.50A2.10,2.10 0 0 1 455.10,1430.40H457.20V1427.00A4.10,4.10 0 0 1 461.30,1422.90H461.30A4.10,4.10 0 0 1 465.40,1427.00V1430.40H477.60V1427.20A4.30,4.30 0 0 1 481.90,1422.90H482.90A4.30,4.30 0 0 1 487.20,1427.20V1430.40H489.25A2.05,2.05 0 0 1 491.30,1432.45V1450.30Z" fill="#4e4e4e"/>
<path d="M491.30,1450.30V1397.20A4.30,4.30 0 0 1 495.60,1392.90H496.50A4.30,4.30 0 0 1 500.80,1397.20V1437.90H507.60V1433.80A3.40,3.40 0 0 1 511.00,1430.40H514.40V1419.70A4.30,4.30 0 0 1 518.70,1415.40H519.70A4.30,4.30 0 0 1 524.00,1419.70V1430.40H526.70V1412.20A4.30,4.30 0 0 1 531.00,1407.90H533.30A4.30,4.30 0 0 1 537.60,1412.20V1422.90H544.20A4.30,4.30 0 0 1 548.50,1427.20V1437.90H571.60A4.30,4.30 0 0 1 575.90,1442.20V1450.30Z" fill="#b0b0b0"/>
<path d="M575.90,1450.30V1397.20A4.30,4.30 0 0 1 580.20,1392.90H580.50A4.30,4.30 0 0 1 584.80,1397.20V1437.90H591.00V1434.70A4.30,4.30 0 0 1 595.30,1430.40H607.20V1412.20A4.30,4.30 0 0 1 611.50,1407.90H612.50A4.30,4.30 0 0 1 616.80,1412.20V1430.40H623.60V1427.20A4.30,4.30 0 0 1 627.90,1422.90H652.20V1422.90H655.60A3.40,3.40 0 0 1 659.00,1426.30V1450.30Z" fill="#4e4e4e"/>
<path d="M659.00,1450.30V1424.40A1.50,1.50 0 0 1 660.50,1422.90H662.00V1422.90H665.80V1419.70A4.30,4.30 0 0 1 670.10,1415.40H678.70A4.30,4.30 0 0 1 683.00,1419.70V1422.90H684.90A1.90,1.90 0 0 1 686.80,1424.80V1430.40H692.00A4.30,4.30 0 0 1 696.30,1434.70V1450.30Z" fill="#b0b0b0"/>
<path d="M703.00,1450.30V1434.70A4.30,4.30 0 0 1 707.30,1430.40H714.40V1404.70A4.30,4.30 0 0 1 718.70,1400.40H719.20A4.30,4.30 0 0 1 723.50,1404.70V1430.40H725.90V1419.65A4.25,4.25 0 0 1 730.15,1415.40H730.15A4.25,4.25 0 0 1 734.40,1419.65V1450.30Z" fill="#b0b0b0"/>
<path d="M730.00,1450.30V1434.70A4.30,4.30 0 0 1 734.30,1430.40H740.80V1404.70A4.30,4.30 0 0 1 745.10,1400.40H746.00A4.30,4.30 0 0 1 750.30,1404.70V1430.40H753.00V1419.70A4.30,4.30 0 0 1 757.30,1415.40H762.70V1404.70A4.30,4.30 0 0 1 767.00,1400.40H770.70A4.30,4.30 0 0 1 775.00,1404.70V1422.90H777.70A2.70,2.70 0 0 1 780.40,1425.60V1430.40H795.20A4.30,4.30 0 0 1 799.50,1434.70V1437.90H802.25A2.75,2.75 0 0 1 805.00,1440.65V1450.30Z" fill="#4e4e4e"/>
<path d="M805.00,1450.30V1440.60A2.70,2.70 0 0 1 807.70,1437.90H810.40V1427.20A4.30,4.30 0 0 1 814.70,1422.90H818.40A4.30,4.30 0 0 1 822.70,1427.20V1430.40H826.80V1419.70A4.30,4.30 0 0 1 831.10,1415.40H832.00A4.30,4.30 0 0 1 836.30,1419.70V1430.40H839.65A3.35,3.35 0 0 1 843.00,1433.75V1437.90H852.60V1417.45A2.05,2.05 0 0 1 854.65,1415.40H856.70V1389.55A4.15,4.15 0 0 1 860.85,1385.40H860.85A4.15,4.15 0 0 1 865.00,1389.55V1415.40H865.65A0.65,0.65 0 0 1 866.30,1416.05V1450.30Z" fill="#b0b0b0"/>
<path d="M866.30,1450.30V1427.20A4.30,4.30 0 0 1 870.60,1422.90H875.80V1419.50A4.10,4.10 0 0 1 879.90,1415.40H879.90A4.10,4.10 0 0 1 884.00,1419.50V1437.90H887.40A3.40,3.40 0 0 1 890.80,1441.30V1442.40H892.65A1.85,1.85 0 0 1 894.50,1444.25V1450.30Z" fill="#4e4e4e"/>
<path d="M898.00,1450.30V1443.55A1.15,1.15 0 0 1 899.15,1442.40H900.30V1442.00A4.10,4.10 0 0 1 904.40,1437.90H908.50V1427.20A4.30,4.30 0 0 1 912.80,1422.90H924.80V1389.70A4.30,4.30 0 0 1 929.10,1385.40H930.10A4.30,4.30 0 0 1 934.40,1389.70V1450.30Z" fill="#4e4e4e"/>
<path d="M934.40,1450.30V1434.50A4.10,4.10 0 0 1 938.50,1430.40H938.50A4.10,4.10 0 0 1 942.60,1434.50V1437.90H948.00V1433.40A3.00,3.00 0 0 1 951.00,1430.40H954.00V1419.70A4.30,4.30 0 0 1 958.30,1415.40H961.70A4.30,4.30 0 0 1 966.00,1419.70V1430.40H970.00V1412.20A4.30,4.30 0 0 1 974.30,1407.90H983.40A4.30,4.30 0 0 1 987.70,1412.20V1450.30Z" fill="#b0b0b0"/>
<path d="M987.70,1450.30V1412.20A4.30,4.30 0 0 1 992.00,1407.90H992.90A4.30,4.30 0 0 1 997.20,1412.20V1430.40H1000.60A3.40,3.40 0 0 1 1004.00,1433.80V1437.90H1008.00V1433.90A3.50,3.50 0 0 1 1011.50,1430.40H1015.00V1382.20A4.30,4.30 0 0 1 1019.30,1377.90H1020.20A4.30,4.30 0 0 1 1024.50,1382.20V1430.40H1036.70V1424.30A1.40,1.40 0 0 1 1038.10,1422.90H1039.50V1396.95A4.05,4.05 0 0 1 1043.55,1392.90H1043.55A4.05,4.05 0 0 1 1047.60,1396.95V1450.30Z" fill="#4e4e4e"/>
<path d="M1047.60,1450.30V1427.20A4.30,4.30 0 0 1 1051.90,1422.90H1054.20A4.30,4.30 0 0 1 1058.50,1427.20V1430.40H1087.00V1427.20A4.30,4.30 0 0 1 1091.30,1422.90H1096.70V1419.70A4.30,4.30 0 0 1 1101.00,1415.40H1106.20V1409.95A2.05,2.05 0 0 1 1108.25,1407.90H1108.25A2.05,2.05 0 0 1 1110.30,1409.95V1430.40H1112.35A2.05,2.05 0 0 1 1114.40,1432.45V1450.30Z" fill="#b0b0b0"/>
<path d="M1114.40,1450.30V1440.30A2.40,2.40 0 0 1 1116.80,1437.90H1119.20V1433.45A3.05,3.05 0 0 1 1122.25,1430.40H1125.30V1427.20A4.30,4.30 0 0 1 1129.60,1422.90H1130.50A4.30,4.30 0 0 1 1134.80,1427.20V1437.90H1140.30V1434.50A4.10,4.10 0 0 1 1144.40,1430.40H1144.40A4.10,4.10 0 0 1 1148.50,1434.50V1437.90H1155.40V1434.70A4.30,4.30 0 0 1 1159.70,1430.40H1162.00A4.30,4.30 0 0 1 1166.30,1434.70V1450.30Z" fill="#4e4e4e"/>
<path d="M1166.30,1450.30V1438.60A0.70,0.70 0 0 1 1167.00,1437.90H1167.70V1427.20A4.30,4.30 0 0 1 1172.00,1422.90H1172.90A4.30,4.30 0 0 1 1177.20,1427.20V1437.90H1181.30V1434.70A4.30,4.30 0 0 1 1185.60,1430.40H1189.30A4.30,4.30 0 0 1 1193.60,1434.70V1437.90H1201.80V1434.70A4.30,4.30 0 0 1 1206.10,1430.40H1208.40A4.30,4.30 0 0 1 1212.70,1434.70V1450.30Z" fill="#b0b0b0"/>
<path d="M1212.70,1450.30V1439.25A1.35,1.35 0 0 1 1214.05,1437.90H1215.40V1437.90H1222.20V1433.80A3.40,3.40 0 0 1 1225.60,1430.40H1229.00V1419.70A4.30,4.30 0 0 1 1233.30,1415.40H1235.70A4.30,4.30 0 0 1 1240.00,1419.70V1430.40H1246.50A4.30,4.30 0 0 1 1250.80,1434.70V1450.30Z" fill="#4e4e4e"/>
<path d="M1250.80,1450.30V1434.70A4.30,4.30 0 0 1 1255.10,1430.40H1272.60V1412.20A4.30,4.30 0 0 1 1276.90,1407.90H1277.70A4.30,4.30 0 0 1 1282.00,1412.20V1415.40H1286.15A4.15,4.15 0 0 1 1290.30,1419.55V1450.30Z" fill="#b0b0b0"/>
<path d="M1290.30,1450.30V1427.20A4.30,4.30 0 0 1 1294.60,1422.90H1317.60V1419.20A3.80,3.80 0 0 1 1321.40,1415.40H1321.40A3.80,3.80 0 0 1 1325.20,1419.20V1422.90H1329.25A4.05,4.05 0 0 1 1333.30,1426.95V1450.30Z" fill="#4e4e4e"/>
<path d="M1333.30,1450.30V1427.20A4.30,4.30 0 0 1 1337.60,1422.90H1351.50A4.30,4.30 0 0 1 1355.80,1427.20V1430.40H1358.40A2.60,2.60 0 0 1 1361.00,1433.00V1450.30Z" fill="#b0b0b0"/>
<path d="M1361.00,1450.30V1419.70A4.30,4.30 0 0 1 1365.30,1415.40H1370.90A4.30,4.30 0 0 1 1375.20,1419.70V1422.90H1379.30V1404.70A4.30,4.30 0 0 1 1383.60,1400.40H1387.30A4.30,4.30 0 0 1 1391.60,1404.70V1450.30Z" fill="#4e4e4e"/>
<path d="M1391.60,1450.30V1431.40A1.00,1.00 0 0 1 1392.60,1430.40H1393.60V1430.40H1410.00V1419.70A4.30,4.30 0 0 1 1414.30,1415.40H1415.90A4.30,4.30 0 0 1 1420.20,1419.70V1437.90H1420.70A0.50,0.50 0 0 1 1421.20,1438.40V1450.30Z" fill="#b0b0b0"/>
<path d="M1421.20,1450.30V1441.45A3.55,3.55 0 0 1 1424.75,1437.90H1428.30V1427.20A4.30,4.30 0 0 1 1432.60,1422.90H1436.30A4.30,4.30 0 0 1 1440.60,1427.20V1430.40H1441.90A1.30,1.30 0 0 1 1443.20,1431.70V1450.30Z" fill="#4e4e4e"/>
<path d="M1443.20,1450.30V1427.20A4.30,4.30 0 0 1 1447.50,1422.90H1455.00V1404.70A4.30,4.30 0 0 1 1459.30,1400.40H1459.80A4.30,4.30 0 0 1 1464.10,1404.70V1430.40H1466.05A1.95,1.95 0 0 1 1468.00,1432.35V1450.30Z" fill="#b0b0b0"/>
<line x1="311.4" y1="1412.2" x2="311.4" y2="1359.7" stroke="#b0b0b0" stroke-width="9.6" stroke-linecap="round"/>
<line x1="673" y1="1412.2" x2="673" y2="1337.2" stroke="#b0b0b0" stroke-width="10" stroke-linecap="round"/>
<line x1="1101.4" y1="1412.2" x2="1101.4" y2="1329.7" stroke="#b0b0b0" stroke-width="9.4" stroke-linecap="round"/>
<line x1="1101.4" y1="1314.7" x2="1101.4" y2="1254.7" stroke="#b0b0b0" stroke-width="9.4" stroke-linecap="round"/>
<circle cx="300" cy="1427.2" r="4.3" fill="#4e4e4e"/>
<circle cx="560" cy="1427.2" r="4.3" fill="#b0b0b0"/>
<circle cx="791.3" cy="1419.7" r="4.3" fill="#4e4e4e"/>
<circle cx="791.3" cy="1412.2" r="4.3" fill="#4e4e4e"/></g>
<line x1="152" y1="1863.0" x2="152" y2="2241.2" stroke="#555" stroke-width="3"/>
<line x1="128" y1="2239.7" x2="153.5" y2="2239.7" stroke="#555" stroke-width="3"/>
<text x="84.09" y="2253.50" class="tl">0</text>
<line x1="128" y1="2164.7" x2="153.5" y2="2164.7" stroke="#555" stroke-width="3"/>
<path d="M0.265,0 L0.36,0 L0.36,0.709 L0.292,0.709 C0.27,0.63 0.21,0.575 0.095,0.565 L0.095,0.5 L0.265,0.5 Z" transform="translate(62.67,2178.46) scale(38.5,-38.5)" fill="#1e1e1e" stroke="#1e1e1e" stroke-width="0.0130"/><text x="84.09" y="2178.46" class="tl">0</text>
<line x1="128" y1="2089.6" x2="153.5" y2="2089.6" stroke="#555" stroke-width="3"/>
<text x="62.67" y="2103.42" class="tl">2</text><text x="84.09" y="2103.42" class="tl">0</text>
<line x1="128" y1="2014.6" x2="153.5" y2="2014.6" stroke="#555" stroke-width="3"/>
<text x="62.67" y="2028.38" class="tl">3</text><text x="84.09" y="2028.38" class="tl">0</text>
<line x1="128" y1="1939.5" x2="153.5" y2="1939.5" stroke="#555" stroke-width="3"/>
<text x="62.67" y="1953.34" class="tl">4</text><text x="84.09" y="1953.34" class="tl">0</text>
<line x1="128" y1="1864.5" x2="153.5" y2="1864.5" stroke="#555" stroke-width="3"/>
<text x="62.67" y="1878.30" class="tl">5</text><text x="84.09" y="1878.30" class="tl">0</text>
<line x1="244.4" y1="2239.7" x2="244.4" y2="2263.5" stroke="#333" stroke-width="2.4"/>
<path d="M0.265,0 L0.36,0 L0.36,0.709 L0.292,0.709 C0.27,0.63 0.21,0.575 0.095,0.565 L0.095,0.5 L0.265,0.5 Z" transform="translate(233.69,2321.70) scale(38.5,-38.5)" fill="#1e1e1e" stroke="#1e1e1e" stroke-width="0.0130"/>
<line x1="353.7" y1="2239.7" x2="353.7" y2="2263.5" stroke="#333" stroke-width="2.4"/>
<text x="342.99" y="2321.70" class="tl">2</text>
<line x1="451.3" y1="2239.7" x2="451.3" y2="2263.5" stroke="#333" stroke-width="2.4"/>
<text x="440.59" y="2321.70" class="tl">3</text>
<line x1="536.7" y1="2239.7" x2="536.7" y2="2263.5" stroke="#333" stroke-width="2.4"/>
<text x="525.99" y="2321.70" class="tl">4</text>
<line x1="619" y1="2239.7" x2="619" y2="2263.5" stroke="#333" stroke-width="2.4"/>
<text x="608.29" y="2321.70" class="tl">5</text>
<line x1="697.2" y1="2239.7" x2="697.2" y2="2263.5" stroke="#333" stroke-width="2.4"/>
<text x="686.49" y="2321.70" class="tl">6</text>
<line x1="770.5" y1="2239.7" x2="770.5" y2="2263.5" stroke="#333" stroke-width="2.4"/>
<text x="759.79" y="2321.70" class="tl">7</text>
<line x1="837.3" y1="2239.7" x2="837.3" y2="2263.5" stroke="#333" stroke-width="2.4"/>
<text x="826.59" y="2321.70" class="tl">8</text>
<line x1="900.1" y1="2239.7" x2="900.1" y2="2263.5" stroke="#333" stroke-width="2.4"/>
<text x="889.39" y="2321.70" class="tl">9</text>
<line x1="962" y1="2239.7" x2="962" y2="2263.5" stroke="#333" stroke-width="2.4"/>
<line x1="1021.6" y1="2239.7" x2="1021.6" y2="2263.5" stroke="#333" stroke-width="2.4"/>
<path d="M0.265,0 L0.36,0 L0.36,0.709 L0.292,0.709 C0.27,0.63 0.21,0.575 0.095,0.565 L0.095,0.5 L0.265,0.5 Z" transform="translate(1000.19,2321.70) scale(38.5,-38.5)" fill="#1e1e1e" stroke="#1e1e1e" stroke-width="0.0130"/><path d="M0.265,0 L0.36,0 L0.36,0.709 L0.292,0.709 C0.27,0.63 0.21,0.575 0.095,0.565 L0.095,0.5 L0.265,0.5 Z" transform="translate(1021.60,2321.70) scale(38.5,-38.5)" fill="#1e1e1e" stroke="#1e1e1e" stroke-width="0.0130"/>
<line x1="1082" y1="2239.7" x2="1082" y2="2263.5" stroke="#333" stroke-width="2.4"/>
<line x1="1140.3" y1="2239.7" x2="1140.3" y2="2263.5" stroke="#333" stroke-width="2.4"/>
<path d="M0.265,0 L0.36,0 L0.36,0.709 L0.292,0.709 C0.27,0.63 0.21,0.575 0.095,0.565 L0.095,0.5 L0.265,0.5 Z" transform="translate(1118.89,2321.70) scale(38.5,-38.5)" fill="#1e1e1e" stroke="#1e1e1e" stroke-width="0.0130"/><text x="1140.30" y="2321.70" class="tl">3</text>
<line x1="1190" y1="2239.7" x2="1190" y2="2263.5" stroke="#333" stroke-width="2.4"/>
<line x1="1236.8" y1="2239.7" x2="1236.8" y2="2263.5" stroke="#333" stroke-width="2.4"/>
<path d="M0.265,0 L0.36,0 L0.36,0.709 L0.292,0.709 C0.27,0.63 0.21,0.575 0.095,0.565 L0.095,0.5 L0.265,0.5 Z" transform="translate(1215.39,2321.70) scale(38.5,-38.5)" fill="#1e1e1e" stroke="#1e1e1e" stroke-width="0.0130"/><text x="1236.80" y="2321.70" class="tl">5</text>
<line x1="1274.5" y1="2239.7" x2="1274.5" y2="2263.5" stroke="#333" stroke-width="2.4"/>
<line x1="1312.7" y1="2239.7" x2="1312.7" y2="2263.5" stroke="#333" stroke-width="2.4"/>
<path d="M0.265,0 L0.36,0 L0.36,0.709 L0.292,0.709 C0.27,0.63 0.21,0.575 0.095,0.565 L0.095,0.5 L0.265,0.5 Z" transform="translate(1291.29,2321.70) scale(38.5,-38.5)" fill="#1e1e1e" stroke="#1e1e1e" stroke-width="0.0130"/><text x="1312.70" y="2321.70" class="tl">7</text>
<line x1="1347.3" y1="2239.7" x2="1347.3" y2="2263.5" stroke="#333" stroke-width="2.4"/>
<line x1="1377.8" y1="2239.7" x2="1377.8" y2="2263.5" stroke="#333" stroke-width="2.4"/>
<line x1="1404.2" y1="2239.7" x2="1404.2" y2="2263.5" stroke="#333" stroke-width="2.4"/>
<text x="1382.79" y="2321.70" class="tl">2</text><text x="1404.20" y="2321.70" class="tl">0</text>
<line x1="1432.4" y1="2239.7" x2="1432.4" y2="2263.5" stroke="#333" stroke-width="2.4"/>
<line x1="1455.1" y1="2239.7" x2="1455.1" y2="2263.5" stroke="#333" stroke-width="2.4"/>
<text x="824" y="2370.7" text-anchor="middle" class="ax">Chromosome</text>
<text transform="translate(306.8,1815.6) rotate(-90)" class="gl" font-style="italic" textLength="96.0" lengthAdjust="spacingAndGlyphs">GCKR</text>
<text transform="translate(344.4,1815.9) rotate(-90)" class="gl" font-style="italic" textLength="90.8" lengthAdjust="spacingAndGlyphs">APOB</text>
<text transform="translate(687.4,1814.9) rotate(-90)" class="gl" textLength="77.3" lengthAdjust="spacingAndGlyphs">MHC</text>
<text transform="translate(1114.0,1810.1) rotate(-90)" class="gl" font-style="italic" textLength="107.9" lengthAdjust="spacingAndGlyphs">ALDH2</text>
<path d="M296.5,1821 L313,1857.5" class="dl" stroke-dasharray="6.5 8" stroke-dashoffset="3"/>
<path d="M328.5,1821 L313,1857.5" class="dl" stroke-dasharray="6.5 8" stroke-dashoffset="3"/>
<path d="M313,1857.5 V2134.0" class="dl" stroke-dasharray="7 9" stroke-dashoffset="13.8"/>
<line x1="672.4" y1="1821" x2="672.4" y2="2113.0" class="dl" stroke-dasharray="7 9" stroke-dashoffset="3.5"/>
<line x1="1101.5" y1="1821" x2="1101.5" y2="2029.4999999999998" class="dl" stroke-dasharray="7 9" stroke-dashoffset="3.5"/>
</svg>
</body></html>
